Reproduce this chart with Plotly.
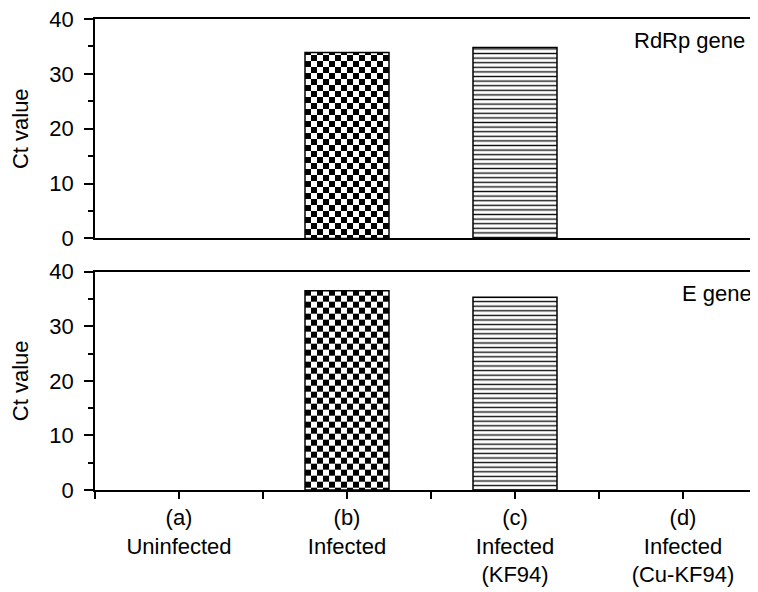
import plotly.graph_objects as go

categories = ["(a)<br>Uninfected", "(b)<br>Infected", "(c)<br>Infected<br>(KF94)", "(d)<br>Infected<br>(Cu-KF94)"]
rdrp_ct = [None, 33.9, 34.8, None]
egene_ct = [None, 36.5, 35.3, None]
panel_labels = ["RdRp gene", "E gene"]
y_ticks = [0, 10, 20, 30, 40]

xpos = list(range(len(categories)))
FONT = "Liberation Sans, Arial, sans-serif"
FS = 22

pattern = dict(
    shape=["", ".", "-", ""],
    size=[12, 12, 4.6, 12],
    solidity=[0.5, 0.5, 0.3, 0.5],
    fgcolor=["black", "black", "#111111", "black"],
    bgcolor="white",
    fillmode="replace",
)

fig = go.Figure()
for i, vals in enumerate([rdrp_ct, egene_ct]):
    fig.add_trace(go.Bar(
        x=xpos, y=vals, width=0.5,
        marker=dict(color="white", pattern=pattern, line=dict(color="black", width=1.5)),
        xaxis="x" if i == 0 else "x2", yaxis="y" if i == 0 else "y2",
        showlegend=False, hoverinfo="skip",
    ))

# the page body adds an 8px offset at left/top, so the figure is 8px smaller
W, H = 750, 584
ML, MT, MB = 87, 11, 102
xrange = [-0.5, -0.5 + (W - ML) / 168]
common_x = dict(range=xrange, showline=True, linecolor="black", linewidth=1.5,
                mirror=True, showgrid=False, zeroline=False, automargin=False,
                ticklabeloverflow="allow")
common_y = dict(range=[0, 40], tickvals=y_ticks, showline=True, linecolor="black", linewidth=1.5,
                ticks="outside", ticklen=9, tickwidth=1.5, tickcolor="black",
                minor=dict(dtick=5, tick0=0, ticks="outside", ticklen=5, tickwidth=1.5, tickcolor="black"),
                showgrid=False, zeroline=False, ticklabelstandoff=6, automargin=False,
                ticklabeloverflow="allow",
                title=dict(text="Ct value", font=dict(size=FS, family=FONT, color="black"), standoff=15),
                tickfont=dict(size=FS, family=FONT, color="black"))

fig.update_layout(
    width=W, height=H,
    margin=dict(l=ML, r=0, t=MT, b=MB, autoexpand=False),
    paper_bgcolor="white", plot_bgcolor="white",
    font=dict(family=FONT, size=FS, color="black"),
    xaxis=dict(common_x, anchor="y", showticklabels=False, ticks=""),
    yaxis=dict(common_y, domain=[0.534, 1], anchor="x"),
    xaxis2=dict(common_x, anchor="y2", tickvals=xpos, ticktext=categories,
                ticks="outside", ticklen=7, tickwidth=1.5, tickcolor="black",
                minor=dict(tick0=-0.5, dtick=1, ticks="outside", ticklen=7, tickwidth=1.5, tickcolor="black"),
                tickfont=dict(size=FS, family=FONT, color="black")),
    yaxis2=dict(common_y, domain=[0, 0.4635], anchor="x2"),
    annotations=[
        dict(text=panel_labels[0], xref="paper", yref="paper", x=0.81, y=0.955,
             xanchor="left", yanchor="middle", showarrow=False, font=dict(size=FS, family=FONT, color="black")),
        dict(text=panel_labels[1], xref="paper", yref="paper", x=0.882, y=0.418,
             xanchor="left", yanchor="middle", showarrow=False, font=dict(size=FS, family=FONT, color="black")),
    ],
)

post = """
function checker(){
  var gd = document.getElementById('{plot_id}');
  var pats = gd.querySelectorAll('pattern');
  pats.forEach(function(p){
    var c = p.querySelector('circle');
    if(!c) return;
    var w = parseFloat(p.getAttribute('width'));
    var h = w/2;
    c.parentNode.removeChild(c);
    var ns = 'http://www.w3.org/2000/svg';
    [[0,0],[h,h]].forEach(function(o){
      var r = document.createElementNS(ns,'rect');
      r.setAttribute('x', o[0]); r.setAttribute('y', o[1]);
      r.setAttribute('width', h); r.setAttribute('height', h);
      r.setAttribute('fill', 'black');
      p.appendChild(r);
    });
  });
}
checker();
document.getElementById('{plot_id}').on('plotly_afterplot', checker);
"""

fig.write_html("out.html", post_script=post)
